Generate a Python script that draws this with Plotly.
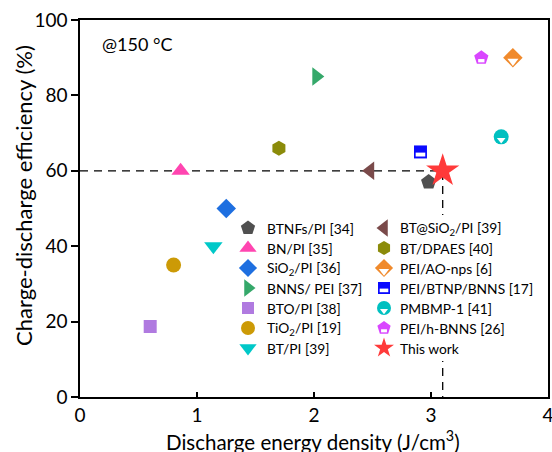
import plotly.graph_objects as go

# ---------------- data ----------------
names = ["BTNFs/PI [34]", "BN/PI [35]", "SiO<sub>2</sub>/PI [36]", "BNNS/ PEI [37]",
         "BTO/PI [38]", "TiO<sub>2</sub>/PI [19]", "BT/PI [39]",
         "BT@SiO<sub>2</sub>/PI [39]", "BT/DPAES [40]", "PEI/AO-nps [6]",
         "PEI/BTNP/BNNS [17]", "PMBMP-1 [41]", "PEI/h-BNNS [26]", "This work"]
energy = [2.98, 0.86, 1.25, 2.02, 0.60, 0.80, 1.14, 2.48, 1.70, 3.70, 2.91, 3.60, 3.43, 3.10]
efficiency = [57, 60, 50, 85, 18.7, 35, 40, 60, 66, 90, 65, 69, 90, 60]
symbols = ["pentagon", "triangle-up", "diamond", "triangle-right", "square", "circle",
           "triangle-down", "triangle-left", "hexagon", "half-diamond", "half-square",
           "half-circle", "half-pentagon", "star"]
colors = ["#505050", "#ff45b0", "#1e6fe0", "#35a86a", "#b07ae0", "#cc9a06", "#00c8c8",
          "#7a4a4a", "#8b8b0a", "#f08a2c", "#0a0aff", "#00c0c0", "#d946ff", "#ff3a3a"]
sizes = [16, 16, 15, 16, 13, 15, 16, 16, 15, 15, 13, 15, 15, 25]
legend_sizes = [15, 15, 14, 15, 12, 14, 15, 15, 14, 14, 12, 14, 14, 15]

x_ticks = [0, 1, 2, 3, 4]
y_ticks = [0, 20, 40, 60, 80, 100]

x_title = "Discharge energy density (J/cm<sup>3</sup>)"
y_title = "Charge-discharge efficiency (%)"
note = "@150 °C"

# ---------------- layout constants ----------------
W, H = 552, 452
ML, MT, MR, MB = 80, 20, 4, 55
PW, PH = W - ML - MR, H - MT - MB
XR, YR = [0, 4], [0, 100]
FONT = "Lato"


def paper_x(px):
    return (px - ML) / PW


def paper_y(py):
    return 1 - (py - MT) / PH


main_kdown = -(YR[1] - YR[0]) / PH        # data units per pixel downward (y)

fig = go.Figure()

# dashed guide lines through "This work"
sx, sy = energy[-1], efficiency[-1]
fig.add_trace(go.Scatter(x=[XR[0], sx, sx], y=[sy, sy, YR[0]], mode="lines",
                         line=dict(color="black", width=1.3, dash="8px,6px"),
                         showlegend=False, hoverinfo="skip", xaxis="x", yaxis="y"))


def add_marker(x, y, sym, color, size, xa, ya, kdown):
    base = sym[5:] if sym.startswith("half-") else sym
    fig.add_trace(go.Scatter(x=[x], y=[y], mode="markers", xaxis=xa, yaxis=ya,
                             marker=dict(symbol=base, color=color, size=size,
                                         line=dict(width=0)),
                             showlegend=False, hoverinfo="skip", cliponaxis=False))
    if base == sym:
        return
    if base in ("diamond", "circle"):
        t = (0.64 if base == "diamond" else 0.5) * size
        off = t / 4 + 0.07 * size
        fig.add_trace(go.Scatter(x=[x], y=[y + off * kdown], mode="markers", xaxis=xa, yaxis=ya,
                                 marker=dict(symbol="triangle-down", color="white", size=t,
                                             line=dict(width=0)),
                                 showlegend=False, hoverinfo="skip", cliponaxis=False))
    elif base == "square":
        fig.add_trace(go.Scatter(x=[x], y=[y + 0.2 * size * kdown], mode="markers", xaxis=xa, yaxis=ya,
                                 marker=dict(symbol="line-ew", size=(size - 3.4) / 1.4,
                                             line=dict(width=0.3 * size, color="white")),
                                 showlegend=False, hoverinfo="skip", cliponaxis=False))
    elif base == "pentagon":
        fig.add_trace(go.Scatter(x=[x], y=[y + 0.2 * size * kdown], mode="markers", xaxis=xa, yaxis=ya,
                                 marker=dict(symbol="line-ew", size=0.3 * size,
                                             line=dict(width=0.22 * size, color="white")),
                                 showlegend=False, hoverinfo="skip", cliponaxis=False))


# data points
for i in range(len(names)):
    add_marker(energy[i], efficiency[i], symbols[i], colors[i], sizes[i], "x", "y", main_kdown)

# ---------------- custom legend (overlay axes in pixel units of the plot area) ----------------
LEG_BOX = (158, 450, 195, 341)          # x0, x1, y0, y1
COL_MARK_X = [168, 304]
COL_TEXT_X = [185, 318]
ROW0, ROWSTEP, NROWS = 208, 20, 7

fig.add_trace(go.Scatter(x=[LEG_BOX[0], LEG_BOX[1], LEG_BOX[1], LEG_BOX[0], LEG_BOX[0]],
                         y=[LEG_BOX[2], LEG_BOX[2], LEG_BOX[3], LEG_BOX[3], LEG_BOX[2]],
                         mode="lines", fill="toself", fillcolor="white",
                         line=dict(width=0, color="white"), showlegend=False,
                         hoverinfo="skip", xaxis="x2", yaxis="y2"))

annotations = []
for i in range(len(names)):
    col, row = divmod(i, NROWS)
    ly = ROW0 + ROWSTEP * row
    add_marker(COL_MARK_X[col], ly, symbols[i], colors[i], legend_sizes[i], "x2", "y2", 1.0)
    annotations.append(dict(x=COL_TEXT_X[col], y=ly, xref="x2", yref="y2", text=names[i],
                            showarrow=False, xanchor="left", yanchor="middle",
                            font=dict(family=FONT, size=13.8, color="black")))

annotations.append(dict(x=paper_x(100), y=paper_y(44), xref="paper", yref="paper",
                        text=note, showarrow=False, xanchor="left", yanchor="middle",
                        font=dict(family=FONT, size=18, color="black")))
annotations.append(dict(x=paper_x(313), y=paper_y(440), xref="paper", yref="paper",
                        text=x_title, showarrow=False, xanchor="center", yanchor="middle",
                        font=dict(family=FONT, size=20.5, color="black")))
annotations.append(dict(x=paper_x(23), y=paper_y(196), xref="paper", yref="paper",
                        text=y_title, showarrow=False, xanchor="center", yanchor="middle",
                        textangle=-90,
                        font=dict(family=FONT, size=22, color="black")))

axis_common = dict(showline=True, linecolor="black", linewidth=1.5, mirror=True,
                   showgrid=False, zeroline=False, ticklabeloverflow="allow",
                   automargin=False,
                   tickcolor="black", tickwidth=1.5,
                   tickfont=dict(family=FONT, size=19, color="black"))

fig.update_layout(
    width=W, height=H, autosize=False,
    margin=dict(l=ML, r=MR, t=MT, b=MB, autoexpand=False),
    paper_bgcolor="white", plot_bgcolor="white",
    showlegend=False,
    font=dict(family=FONT, color="black"),
    xaxis=dict(range=XR, tickvals=x_ticks, ticks="inside", ticklen=5, **axis_common),
    yaxis=dict(range=YR, tickvals=y_ticks, ticks="outside", ticklen=7, **axis_common),
    xaxis2=dict(overlaying="x", range=[0, PW], visible=False, fixedrange=True),
    yaxis2=dict(overlaying="y", range=[PH, 0], visible=False, fixedrange=True),
    annotations=annotations,
)

fig.write_html("out.html", config={"displayModeBar": False},
               post_script="document.body.style.margin='0';document.body.style.overflow='hidden';")
